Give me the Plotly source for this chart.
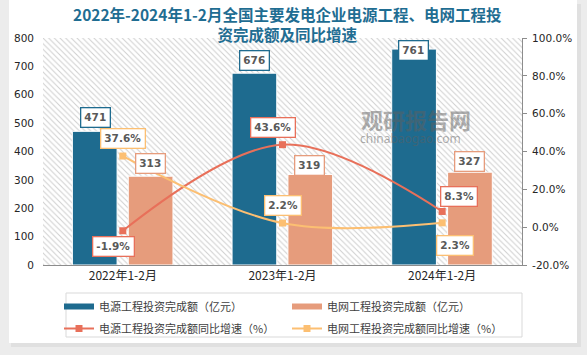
import plotly.graph_objects as go

# ---------------- data ----------------
categories = ["2022年1-2月", "2023年1-2月", "2024年1-2月"]
power_invest = [471, 676, 761]          # 电源工程投资完成额（亿元）
grid_invest = [313, 319, 327]           # 电网工程投资完成额（亿元）
power_growth = [-1.9, 43.6, 8.3]        # 电源工程投资完成额同比增速（%）
grid_growth = [37.6, 2.2, 2.3]          # 电网工程投资完成额同比增速（%）

left_ticks = [0, 100, 200, 300, 400, 500, 600, 700, 800]
right_ticks = [-20, 0, 20, 40, 60, 80, 100]
right_tick_text = [f"{v:.1f}%" for v in right_ticks]

names = [
    "电源工程投资完成额（亿元）",
    "电网工程投资完成额（亿元）",
    "电源工程投资完成额同比增速（%）",
    "电网工程投资完成额同比增速（%）",
]
title_text = "2022年-2024年1-2月全国主要发电企业电源工程、电网工程投<br>资完成额及同比增速"

# ---------------- style ----------------
BLUE = "#1e6b8f"
ORANGE = "#e69c7c"
RED = "#e8705a"
YELLOW = "#fcbf72"
TXT = "#404040"
LBL = "#595959"
CJK = "Noto Sans CJK SC"
NUM = "DejaVu Sans"
PAGE_BG = "#ececec"

W, H = 587, 355
ML, MR, MT, MB = 43, 65, 38, 90
PW, PH = W - ML - MR, H - MT - MB


def px(x):
    return (x - ML) / PW


def py(y):
    return (H - MB - y) / PH


fig = go.Figure()

# hatched plot background
fig.add_trace(go.Bar(
    x=[categories[1]], y=[left_ticks[-1]], width=[3], offset=[-1.5],
    marker=dict(color="white", line_width=0,
                pattern=dict(shape="\\", fgcolor="#cfcfcf", bgcolor="white",
                             size=4, solidity=0.25, fillmode="replace")),
    hoverinfo="skip", showlegend=False,
))

fig.add_trace(go.Bar(
    x=categories, y=power_invest, width=0.28, offset=-0.316,
    marker=dict(color=BLUE, line=dict(color="white", width=1)),
    showlegend=False, name=names[0],
))
fig.add_trace(go.Bar(
    x=categories, y=grid_invest, width=0.28, offset=0.034,
    marker=dict(color=ORANGE, line=dict(color="white", width=1)),
    showlegend=False, name=names[1],
))
fig.add_trace(go.Scatter(
    x=categories, y=power_growth, yaxis="y2", mode="lines+markers",
    line=dict(color=RED, width=2, shape="spline", smoothing=1),
    marker=dict(symbol="square", size=7, color=RED),
    name=names[2], legend="legend", legendgroup="g2", legendrank=2,
))
fig.add_trace(go.Scatter(
    x=categories, y=grid_growth, yaxis="y2", mode="lines+markers",
    line=dict(color=YELLOW, width=2, shape="spline", smoothing=1),
    marker=dict(symbol="square", size=7, color=YELLOW),
    name=names[3], legend="legend2", legendgroup="g4", legendrank=2,
))
# legend-only entries for the bars (wide rectangle icons)
fig.add_trace(go.Scatter(
    x=[None], y=[None], mode="lines", line=dict(color=BLUE, width=6),
    name=names[0], legend="legend", legendgroup="g1", legendrank=1, hoverinfo="skip",
))
fig.add_trace(go.Scatter(
    x=[None], y=[None], mode="lines", line=dict(color=ORANGE, width=6),
    name=names[1], legend="legend2", legendgroup="g3", legendrank=1, hoverinfo="skip",
))

# ---------------- data labels ----------------
annotations = []


def add_label(x, y, text, color, xshift, yshift, yref="y"):
    annotations.append(dict(
        x=x, y=y, xref="x", yref=yref, text=f"<b>{text}</b>", showarrow=False,
        xshift=xshift, yshift=yshift, bgcolor="white", bordercolor=color,
        borderwidth=1.3, borderpad=3,
        font=dict(family=NUM, size=10.5, color=LBL),
    ))


bar_shift_blue = [(-27.5, 14), (-28.5, 12.5), (-29, -1)]
bar_shift_orange = [(28, 13), (27, 9), (27.5, 11)]
red_shift = [(-9, -16), (-10, 17.5), (16.5, 15)]
yellow_shift = [(0, 18), (0, 18), (13, -23)]

for i, c in enumerate(categories):
    add_label(c, power_invest[i], f"{power_invest[i]}", BLUE, *bar_shift_blue[i])
    add_label(c, grid_invest[i], f"{grid_invest[i]}", ORANGE, *bar_shift_orange[i])
    add_label(c, power_growth[i], f"{power_growth[i]:.1f}%", RED, *red_shift[i], yref="y2")
    add_label(c, grid_growth[i], f"{grid_growth[i]:.1f}%", YELLOW, *yellow_shift[i], yref="y2")

# watermark
annotations.append(dict(
    x=px(473), y=py(118.5), xref="paper", yref="paper", showarrow=False,
    text="<b>观研报告网</b>", font=dict(family=CJK, size=22, color="rgba(95,95,95,0.5)"),
))
annotations.append(dict(
    x=px(463), y=py(138), xref="paper", yref="paper", showarrow=False,
    text="chinabaogao.com", font=dict(family="Noto Sans", size=12, color="rgba(95,95,95,0.5)"),
))
# title
annotations.append(dict(
    x=px(287.5), y=py(1), xref="paper", yref="paper", xanchor="center", yanchor="top",
    showarrow=False, text=f"<b>{title_text}</b>", align="center",
    font=dict(family=CJK, size=15.5, color="#1f6d92"),
))

shapes = [
    dict(type="rect", xref="paper", yref="paper", layer="below",
         x0=px(11), x1=px(581), y0=py(4), y1=py(347),
         fillcolor="rgba(0,0,0,0.05)", line_width=0),
    dict(type="rect", xref="paper", yref="paper", layer="below",
         x0=px(9), x1=px(577), y0=py(0), y1=py(343),
         fillcolor="white", line_width=0),
    dict(type="rect", xref="paper", yref="paper", layer="below",
         x0=px(66), x1=px(522), y0=py(293), y1=py(337),
         fillcolor="rgba(0,0,0,0)", line=dict(color="#d9d9d9", width=1)),
]

legend_common = dict(
    xanchor="left", yanchor="top", orientation="v",
    bgcolor="rgba(0,0,0,0)", borderwidth=0, traceorder="grouped",
    font=dict(family=CJK, size=11, color=TXT), tracegroupgap=3,
)

fig.update_layout(
    width=W, height=H,
    margin=dict(l=ML, r=MR, t=MT, b=MB),
    paper_bgcolor=PAGE_BG, plot_bgcolor="rgba(0,0,0,0)",
    barmode="overlay",
    xaxis=dict(type="category", categoryorder="array", categoryarray=categories,
               range=[-0.5, 2.5], showgrid=False,
               showline=True, linecolor="#8c8c8c", linewidth=1, ticks="",
               tickfont=dict(family=CJK, size=12, color="#262626")),
    yaxis=dict(range=[0, 800], tickvals=left_ticks, showgrid=False, zeroline=False,
               showline=False, ticks="", ticklabelstandoff=8,
               tickfont=dict(family=NUM, size=10.5, color="#262626")),
    yaxis2=dict(range=[-20, 100], tickvals=right_ticks, ticktext=right_tick_text,
                overlaying="y", side="right", showgrid=False, zeroline=False,
                showline=True, linecolor="#8c8c8c", ticks="outside", ticklen=4,
                tickcolor="#8c8c8c", ticklabelstandoff=3,
                tickfont=dict(family=NUM, size=10.5, color="#262626")),
    legend=dict(x=px(59), y=py(292), **legend_common),
    legend2=dict(x=px(287), y=py(292), **legend_common),
    annotations=annotations,
    shapes=shapes,
    showlegend=True,
)

fig.write_html(
    "out.html",
    config={"displayModeBar": False},
    post_script=(
        "document.body.style.margin='0';"
        "document.body.style.padding='0';"
        f"document.body.style.background='{PAGE_BG}';"
    ),
)
